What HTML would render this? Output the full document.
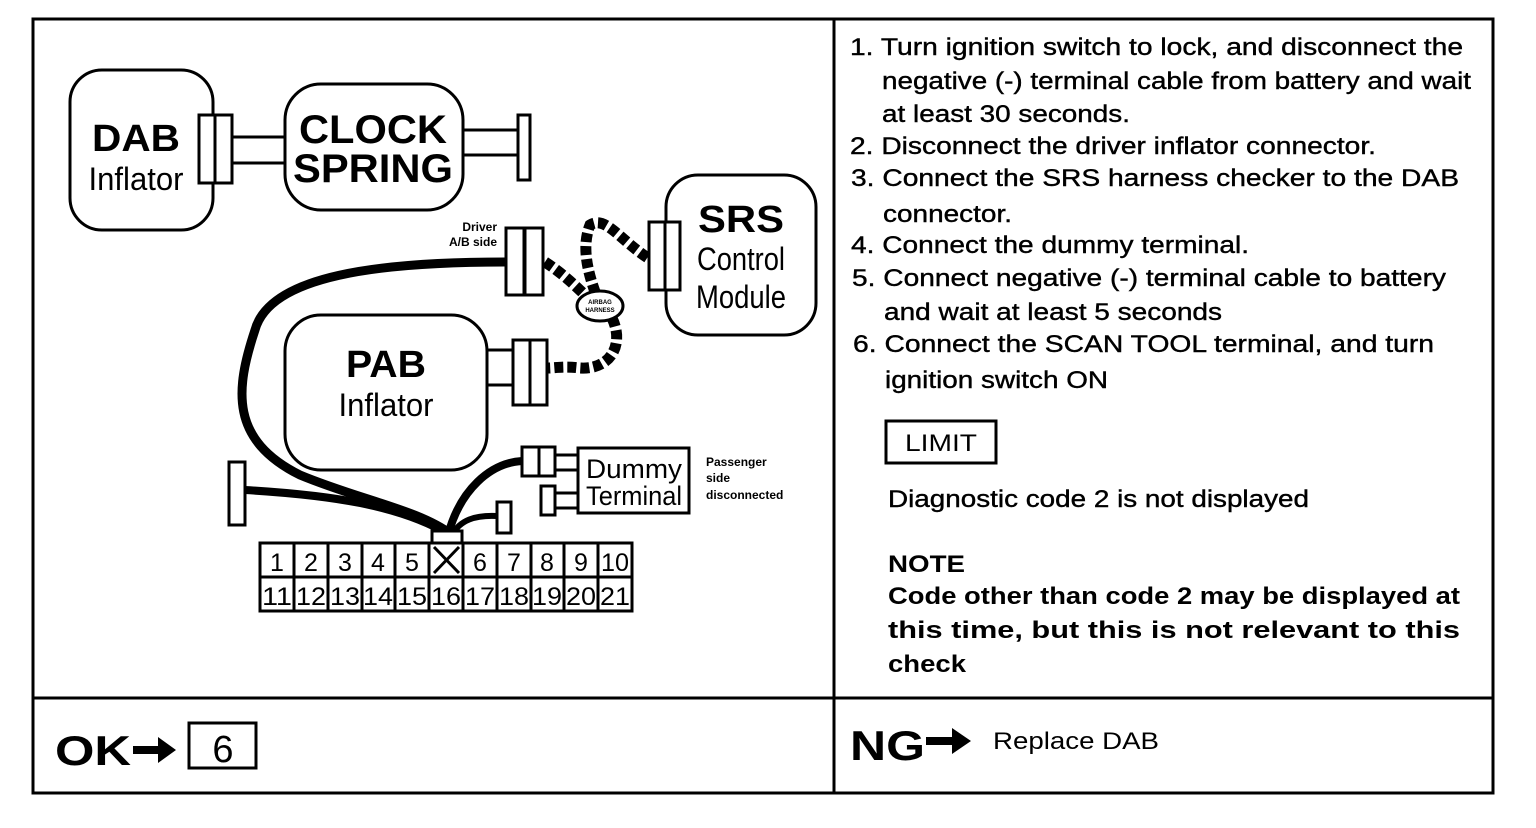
<!DOCTYPE html>
<html><head><meta charset="utf-8"><style>
html,body{margin:0;padding:0;background:#fff;}
svg{display:block;}
text{font-family:"Liberation Sans",sans-serif;fill:#000;}
</style></head><body>
<svg width="1536" height="828" viewBox="0 0 1536 828" xmlns="http://www.w3.org/2000/svg">
<rect x="0" y="0" width="1536" height="828" fill="#fff"/>
<!-- frame -->
<g stroke="#000" stroke-width="3" fill="none">
<rect x="33" y="19" width="1460" height="774"/>
<line x1="834" y1="19" x2="834" y2="793"/>
<line x1="33" y1="698" x2="1493" y2="698"/>
</g>
<!-- DAB -->
<g stroke="#000" stroke-width="3" fill="#fff">
<rect x="70" y="70" width="143" height="160" rx="32"/>
<line x1="232" y1="137" x2="290" y2="137"/><line x1="232" y1="163" x2="290" y2="163"/>
<rect x="199" y="115" width="16" height="68"/><rect x="215" y="115" width="17" height="68"/>
<rect x="285" y="84" width="178" height="126" rx="36"/>
<line x1="462" y1="130" x2="518" y2="130"/><line x1="462" y1="155" x2="518" y2="155"/>
<rect x="518" y="115" width="12" height="65"/>
<rect x="666" y="175" width="150" height="160" rx="32"/>
<rect x="285" y="315" width="202" height="155" rx="36"/>
<line x1="487" y1="350" x2="513" y2="350"/><line x1="487" y1="385" x2="513" y2="385"/>
</g>
<text x="136" y="151" font-size="38" font-weight="bold" text-anchor="middle" textLength="88" lengthAdjust="spacingAndGlyphs">DAB</text>
<text x="136" y="190" font-size="32" text-anchor="middle" textLength="95" lengthAdjust="spacingAndGlyphs">Inflator</text>
<text x="373" y="143" font-size="40" font-weight="bold" text-anchor="middle" textLength="148" lengthAdjust="spacingAndGlyphs">CLOCK</text>
<text x="373" y="182" font-size="40" font-weight="bold" text-anchor="middle" textLength="160" lengthAdjust="spacingAndGlyphs">SPRING</text>
<text x="741" y="232" font-size="38" font-weight="bold" text-anchor="middle" textLength="86" lengthAdjust="spacingAndGlyphs">SRS</text>
<text x="741" y="270" font-size="32" text-anchor="middle" textLength="88" lengthAdjust="spacingAndGlyphs">Control</text>
<text x="741" y="308" font-size="32" text-anchor="middle" textLength="90" lengthAdjust="spacingAndGlyphs">Module</text>
<text x="386" y="377" font-size="38" font-weight="bold" text-anchor="middle" textLength="80" lengthAdjust="spacingAndGlyphs">PAB</text>
<text x="386" y="416" font-size="32" text-anchor="middle" textLength="95" lengthAdjust="spacingAndGlyphs">Inflator</text>
<!-- cables -->
<g fill="none" stroke="#000" stroke-linecap="round">
<path d="M505 262 C380 262 270 275 255 330 C235 390 230 440 300 475 C360 500 420 510 452 535" stroke-width="9"/>
<path d="M245 490 C330 495 400 505 450 535" stroke-width="8"/>
<path d="M522 461 C490 463 460 490 448 535" stroke-width="8"/>
<path d="M497 516 C475 515 460 520 452 535" stroke-width="6"/>
</g>
<g fill="none" stroke="#000" stroke-width="11" stroke-dasharray="9 4">
<path d="M545 262 C565 275 580 290 595 305"/>
<path d="M600 305 C590 280 580 250 590 225 C605 215 620 240 648 258"/>
<path d="M612 318 C625 345 610 370 580 368 C565 366 555 368 548 368"/>
</g>
<ellipse cx="600" cy="306" rx="23" ry="15" fill="#fff" stroke="#000" stroke-width="3"/>
<text x="600" y="304" font-size="6" font-weight="bold" text-anchor="middle">AIRBAG</text>
<text x="600" y="312" font-size="6" font-weight="bold" text-anchor="middle">HARNESS</text>
<g stroke="#000" stroke-width="3" fill="#fff">
<rect x="649" y="222" width="16" height="68"/><rect x="665" y="222" width="15" height="68"/>
<rect x="506" y="228" width="18" height="67"/><rect x="525" y="228" width="18" height="67"/>
<rect x="513" y="340" width="17" height="65"/><rect x="530" y="340" width="17" height="65"/>
<rect x="229" y="462" width="16" height="63"/>
<rect x="497" y="502" width="14" height="31"/>
<line x1="555" y1="455" x2="579" y2="455"/><line x1="555" y1="470" x2="579" y2="470"/>
<line x1="555" y1="493" x2="579" y2="493"/><line x1="555" y1="508" x2="579" y2="508"/>
<rect x="578" y="448" width="111" height="65"/>
<rect x="522" y="447" width="17" height="29"/><rect x="539" y="447" width="16" height="29"/>
<rect x="541" y="486" width="14" height="29"/>
</g>
<text x="497" y="231" font-size="12" font-weight="bold" text-anchor="end">Driver</text>
<text x="497" y="246" font-size="12" font-weight="bold" text-anchor="end">A/B side</text>
<text x="634" y="478" font-size="27" text-anchor="middle" textLength="96" lengthAdjust="spacingAndGlyphs">Dummy</text>
<text x="634" y="505" font-size="27" text-anchor="middle" textLength="96" lengthAdjust="spacingAndGlyphs">Terminal</text>
<text x="706" y="466" font-size="12" font-weight="bold">Passenger</text>
<text x="706" y="482" font-size="12" font-weight="bold">side</text>
<text x="706" y="499" font-size="12" font-weight="bold">disconnected</text>
<!-- connector grid -->
<g stroke="#000" stroke-width="3" fill="#fff">
<rect x="432" y="531" width="30" height="14"/>
<rect x="260" y="543" width="372" height="68"/>
</g>
<g stroke="#000" stroke-width="3">
<line x1="260" y1="577" x2="632" y2="577"/>
<line x1="294" y1="543" x2="294" y2="611"/><line x1="328" y1="543" x2="328" y2="611"/>
<line x1="362" y1="543" x2="362" y2="611"/><line x1="395" y1="543" x2="395" y2="611"/>
<line x1="429" y1="543" x2="429" y2="611"/><line x1="463" y1="543" x2="463" y2="611"/>
<line x1="497" y1="543" x2="497" y2="611"/><line x1="531" y1="543" x2="531" y2="611"/>
<line x1="564" y1="543" x2="564" y2="611"/><line x1="598" y1="543" x2="598" y2="611"/>
<line x1="434" y1="547" x2="459" y2="573"/><line x1="459" y1="547" x2="434" y2="573"/>
</g>
<g font-size="25" text-anchor="middle">
<text x="277" y="571">1</text><text x="311" y="571">2</text><text x="345" y="571">3</text><text x="378" y="571">4</text><text x="412" y="571">5</text>
<text x="480" y="571">6</text><text x="514" y="571">7</text><text x="547" y="571">8</text><text x="581" y="571">9</text><text x="615" y="571" textLength="28" lengthAdjust="spacingAndGlyphs">10</text>
</g>
<g font-size="25" text-anchor="middle" lengthAdjust="spacingAndGlyphs">
<text x="277" y="605" textLength="30" lengthAdjust="spacingAndGlyphs">11</text><text x="311" y="605" textLength="30" lengthAdjust="spacingAndGlyphs">12</text><text x="345" y="605" textLength="30" lengthAdjust="spacingAndGlyphs">13</text><text x="378" y="605" textLength="30" lengthAdjust="spacingAndGlyphs">14</text><text x="412" y="605" textLength="30" lengthAdjust="spacingAndGlyphs">15</text><text x="446" y="605" textLength="30" lengthAdjust="spacingAndGlyphs">16</text><text x="480" y="605" textLength="30" lengthAdjust="spacingAndGlyphs">17</text><text x="514" y="605" textLength="30" lengthAdjust="spacingAndGlyphs">18</text><text x="547" y="605" textLength="30" lengthAdjust="spacingAndGlyphs">19</text><text x="581" y="605" textLength="30" lengthAdjust="spacingAndGlyphs">20</text><text x="615" y="605" textLength="30" lengthAdjust="spacingAndGlyphs">21</text>
</g>
<!-- right text -->
<g font-size="24" stroke="#000" stroke-width="0.4">
<text x="850" y="55" textLength="613" lengthAdjust="spacingAndGlyphs">1. Turn ignition switch to lock, and disconnect the</text>
<text x="882" y="89" textLength="589" lengthAdjust="spacingAndGlyphs">negative (-) terminal cable from battery and wait</text>
<text x="882" y="122" textLength="248" lengthAdjust="spacingAndGlyphs">at least 30 seconds.</text>
<text x="850" y="154" textLength="526" lengthAdjust="spacingAndGlyphs">2. Disconnect the driver inflator connector.</text>
<text x="851" y="186" textLength="608" lengthAdjust="spacingAndGlyphs">3. Connect the SRS harness checker to the DAB</text>
<text x="883" y="222" textLength="129" lengthAdjust="spacingAndGlyphs">connector.</text>
<text x="851" y="253" textLength="398" lengthAdjust="spacingAndGlyphs">4. Connect the dummy terminal.</text>
<text x="852" y="286" textLength="594" lengthAdjust="spacingAndGlyphs">5. Connect negative (-) terminal cable to battery</text>
<text x="884" y="320" textLength="338" lengthAdjust="spacingAndGlyphs">and wait at least 5 seconds</text>
<text x="853" y="352" textLength="581" lengthAdjust="spacingAndGlyphs">6. Connect the SCAN TOOL terminal, and turn</text>
<text x="885" y="388" textLength="223" lengthAdjust="spacingAndGlyphs">ignition switch ON</text>
<text x="888" y="507" textLength="421" lengthAdjust="spacingAndGlyphs">Diagnostic code 2 is not displayed</text>
</g>
<rect x="886" y="421" width="110" height="42" fill="#fff" stroke="#000" stroke-width="3"/>
<text x="941" y="451" font-size="24" text-anchor="middle" textLength="72" lengthAdjust="spacingAndGlyphs">LIMIT</text>
<g font-size="24" font-weight="bold">
<text x="888" y="572" textLength="77" lengthAdjust="spacingAndGlyphs">NOTE</text>
<text x="888" y="604" textLength="572" lengthAdjust="spacingAndGlyphs">Code other than code 2 may be displayed at</text>
<text x="888" y="638" textLength="572" lengthAdjust="spacingAndGlyphs">this time, but this is not relevant to this</text>
<text x="888" y="672" textLength="78" lengthAdjust="spacingAndGlyphs">check</text>
</g>
<!-- bottom -->
<text x="55" y="765" font-size="42" font-weight="bold" textLength="76" lengthAdjust="spacingAndGlyphs">OK</text>
<path d="M133 746 L158 746 L158 737 L176 750 L158 763 L158 754 L133 754 Z" fill="#000"/>
<rect x="189" y="723" width="67" height="45" fill="#fff" stroke="#000" stroke-width="3"/>
<text x="223" y="762" font-size="38" text-anchor="middle">6</text>
<text x="850" y="760" font-size="42" font-weight="bold" textLength="75" lengthAdjust="spacingAndGlyphs">NG</text>
<path d="M926 737 L952 737 L952 728 L971 741 L952 754 L952 745 L926 745 Z" fill="#000"/>
<text x="993" y="749" font-size="24" textLength="166" lengthAdjust="spacingAndGlyphs">Replace DAB</text>
</svg>
</body></html>
